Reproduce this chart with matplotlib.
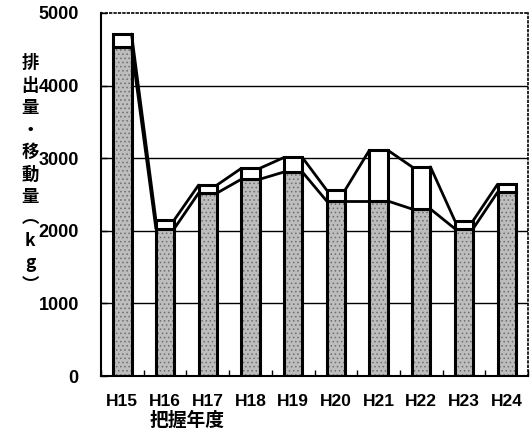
import numpy as np
import matplotlib
matplotlib.use('Agg')
import matplotlib.pyplot as plt

# 把握年度ごとの排出量・移動量 (kg)
nendo = ["H15", "H16", "H17", "H18", "H19", "H20", "H21", "H22", "H23", "H24"]
haishutsu = [4530, 2030, 2520, 2710, 2810, 2410, 2410, 2300, 2030, 2530]
goukei = [4710, 2150, 2630, 2860, 3010, 2560, 3110, 2880, 2140, 2640]
idou = [g - h for g, h in zip(goukei, haishutsu)]

plt.rcParams['font.family'] = ['Liberation Sans', 'Noto Sans CJK JP', 'DejaVu Sans']
plt.rcParams['hatch.linewidth'] = 0.6

fig = plt.figure(figsize=(5.3, 4.36), dpi=100)
ax = fig.add_axes([0.1906, 0.1376, 0.8057, 0.8326])

x = np.arange(len(nendo))
w = 0.43

# 格子線
for v in [1000, 2000, 3000, 4000]:
    ax.axhline(v, color='black', lw=1.0, zorder=0)

# 下の段 (網かけ)
ax.bar(x, haishutsu, w, color='#bdbdbd', edgecolor='#6e6e6e', hatch='....',
       lw=0, zorder=2)
ax.bar(x, haishutsu, w, facecolor='none', edgecolor='black', lw=2.2, zorder=3)
# 上の段 (白)
ax.bar(x, idou, w, bottom=haishutsu, facecolor='white', edgecolor='black',
       lw=2.2, zorder=3)

# 区分線
for s in (haishutsu, goukei):
    for i in range(len(x) - 1):
        ax.plot([x[i] + w / 2, x[i + 1] - w / 2], [s[i], s[i + 1]],
                color='black', lw=2.0, zorder=4, solid_capstyle='round')

ax.set_xlim(-0.5, len(x) - 0.5)
ax.set_ylim(0, 5000)
ax.set_yticks([0, 1000, 2000, 3000, 4000, 5000])
ax.set_yticklabels(['0', '1000', '2000', '3000', '4000', '5000'],
                   fontsize=13, fontweight='bold')
ax.set_xticks(x)
ax.set_xticklabels(nendo, fontsize=12.5, fontweight='bold')
ax.set_xticks(np.arange(-0.5, len(x)), minor=True)
ax.tick_params(axis='x', which='major', length=0, pad=13)
ax.tick_params(axis='x', which='minor', direction='in', length=4, width=1)
ax.tick_params(axis='y', direction='in', length=4, width=1, pad=16)

ax.spines['left'].set_linewidth(1.5)
ax.spines['bottom'].set_linewidth(1.5)
for sp in ['top', 'right']:
    ax.spines[sp].set_linestyle(':')
    ax.spines[sp].set_linewidth(1.2)

# 縦書きの軸ラベル
ylab = ['排', '出', '量', '・', '移', '動', '量', '︵', 'k', 'g', '︶']
fig.text(0.057, 0.60, '\n'.join(ylab), ha='center', va='center',
         fontsize=12.5, fontweight='bold', linespacing=1.3,
         family=['Noto Sans CJK JP', 'DejaVu Sans'])

fig.text(0.353, 0.035, '把握年度', ha='center', va='center', fontsize=13.5,
         fontweight='bold', family=['Noto Sans CJK JP', 'DejaVu Sans'])

plt.savefig('out.png', dpi=100)
